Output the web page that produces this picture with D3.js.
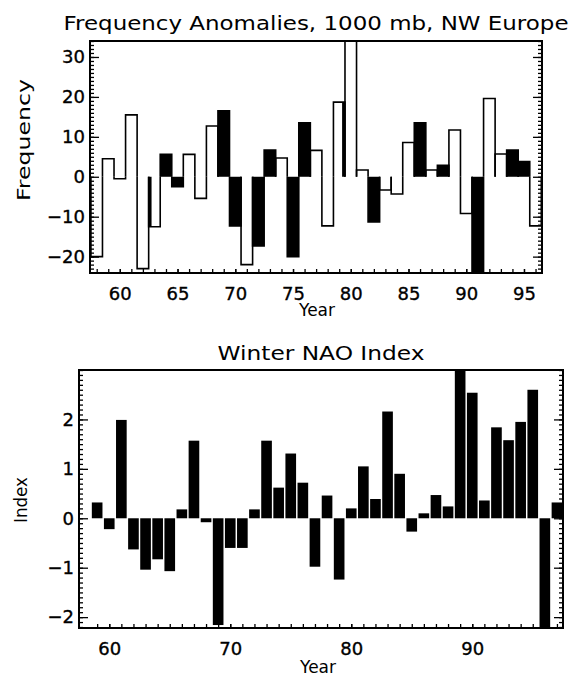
<!DOCTYPE html>
<html>
<head>
<meta charset="utf-8">
<script src="https://cdn.jsdelivr.net/npm/d3@7"></script>
<style>
  body { margin: 0; background: #fff; }
</style>
</head>
<body>
<div id="chart"></div>
<script>
// --- Frequency anomalies, 1000 mb, NW Europe (top panel)
const freqYears = [58, 59, 60, 61, 62, 63, 64, 65, 66, 67, 68, 69, 70, 71, 72, 73, 74, 75, 76, 77,
  78, 79, 80, 81, 82, 83, 84, 85, 86, 87, 88, 89, 90, 91, 92, 93, 94, 95, 96];
const freqValues = [-20, 4.5, -0.5, 15.5, -23, -12.5, 5.6, -2.5, 5.6, -5.4, 12.7, 16.5, -12.3, -22, -17.3, 6.7,
  4.7, -20, 13.5, 6.6, -12.3, 18.7, 40, 1.7, -11.3, -3.3, -4.3, 8.6, 13.5, 1.7, 2.9, 11.7, -9.2,
  -30, 19.6, 5.7, 6.7, 3.8, -12.3];
const freqShaded = [0, 0, 0, 0, 0, 0, 1, 1, 0, 0, 0, 1, 1, 0, 1, 1, 0, 1, 1, 0,
  0, 0, 0, 0, 1, 0, 0, 0, 1, 0, 1, 0, 0, 1, 0, 0, 1, 1, 0];
// thin shaded slivers at the edge of two open bars
const freqSlivers = [[63, "left"], [79, "right"]];
const freqYTicks = [-20, -10, 0, 10, 20, 30];
const freqXTicks = [60, 65, 70, 75, 80, 85, 90, 95];

// --- Winter NAO index (bottom panel)
const naoYears = [59, 60, 61, 62, 63, 64, 65, 66, 67, 68, 69, 70, 71, 72, 73, 74, 75, 76, 77, 78,
  79, 80, 81, 82, 83, 84, 85, 86, 87, 88, 89, 90, 91, 92, 93, 94, 95, 96, 97];
const naoValues = [0.32, -0.22, 1.99, -0.63, -1.04, -0.83, -1.07, 0.18, 1.57, -0.08, -2.16, -0.6, -0.6,
  0.18, 1.57, 0.62, 1.31, 0.72, -0.98, 0.46, -1.24, 0.2, 1.05, 0.39, 2.16, 0.9, -0.27, 0.1, 0.47,
  0.24, 3.3, 2.54, 0.36, 1.84, 1.58, 1.95, 2.6, -2.5, 0.32];
const naoYTicks = [-2, -1, 0, 1, 2];
const naoXTicks = [60, 70, 80, 90];

const width = 575;
const height = 681;
const ink = "#000";
const font = "'DejaVu Sans', 'Liberation Sans', sans-serif";

const svg = d3
  .select("#chart")
  .append("svg")
  .attr("width", width)
  .attr("height", height)
  .style("font-family", font);

function drawFrame(g, x, y, clipId, yMinorStep, yMinorRange, xMinor) {
  const [x0, x1] = x.range();
  const [yb, yt] = y.range();

  svg.append("clipPath")
    .attr("id", clipId)
    .append("rect")
    .attr("x", x0)
    .attr("y", yt)
    .attr("width", x1 - x0)
    .attr("height", yb - yt);

  const minorY = d3.range(yMinorRange[0], yMinorRange[1] + 1e-9, yMinorStep)
    .map((d) => +d.toFixed(3))
    .filter((d) => d >= y.domain()[0] && d <= y.domain()[1]);

  // minor ticks, left and right (pointing in)
  g.append("g")
    .attr("transform", `translate(${x0},0)`)
    .call(d3.axisLeft(y).tickValues(minorY).tickSize(-4).tickFormat(""))
    .call((a) => a.select(".domain").remove());
  g.append("g")
    .attr("transform", `translate(${x1},0)`)
    .call(d3.axisRight(y).tickValues(minorY).tickSize(-4).tickFormat(""))
    .call((a) => a.select(".domain").remove());

  g.append("g")
    .attr("transform", `translate(0,${yb})`)
    .call(d3.axisBottom(x).tickValues(xMinor).tickSize(-4).tickFormat(""))
    .call((a) => a.select(".domain").remove());

  g.selectAll(".tick line").attr("stroke", ink).attr("stroke-width", 1.3);
}

function drawAxes(g, x, y, yTicks, xTicks, opts) {
  const [x0, x1] = x.range();
  const [yb, yt] = y.range();

  const left = g.append("g")
    .attr("transform", `translate(${x0},0)`)
    .call(d3.axisLeft(y).tickValues(yTicks).tickSize(-9).tickPadding(5).tickFormat((d) => (d < 0 ? "\u2212" + Math.abs(d) : d)));
  left.select(".domain").remove();

  const right = g.append("g")
    .attr("transform", `translate(${x1},0)`)
    .call(d3.axisRight(y).tickValues(yTicks).tickSize(-9).tickFormat(""));
  right.select(".domain").remove();

  const bottom = g.append("g")
    .attr("transform", `translate(0,${yb})`)
    .call(d3.axisBottom(x).tickValues(xTicks).tickSize(-4).tickPadding(opts.xPad));
  bottom.select(".domain").remove();

  g.selectAll(".tick line").attr("stroke", ink).attr("stroke-width", 1.3);
  g.selectAll(".tick text")
    .attr("fill", ink)
    .attr("stroke", ink)
    .attr("stroke-width", 0.35)
    .attr("font-family", font)
    .attr("font-size", "18px");

  g.append("rect")
    .attr("x", x0)
    .attr("y", yt)
    .attr("width", x1 - x0)
    .attr("height", yb - yt)
    .attr("fill", "none")
    .attr("stroke", ink)
    .attr("stroke-width", 2);

  g.append("text")
    .attr("x", (x0 + x1) / 2)
    .attr("y", opts.titleY)
    .attr("text-anchor", "middle")
    .attr("font-size", "20px")
    .attr("textLength", opts.titleLen)
    .attr("lengthAdjust", "spacingAndGlyphs")
    .attr("fill", ink)
    .text(opts.title);

  g.append("text")
    .attr("x", opts.xLabelX)
    .attr("y", opts.xLabelY)
    .attr("text-anchor", "middle")
    .attr("font-size", "18px")
    .attr("textLength", 36)
    .attr("lengthAdjust", "spacingAndGlyphs")
    .attr("fill", ink)
    .text("Year");

  g.append("text")
    .attr("transform", `translate(${opts.yLabelX},${opts.yLabelY}) rotate(-90)`)
    .attr("text-anchor", "middle")
    .attr("font-size", "17px")
    .attr("textLength", opts.yLabelLen)
    .attr("lengthAdjust", "spacingAndGlyphs")
    .attr("fill", ink)
    .text(opts.yLabel);
}

// ---------- top panel ----------
const xTop = d3.scaleLinear().domain([57.42, 96.56]).range([90, 542]);
const yTop = d3.scaleLinear().domain([-24.1, 34]).range([273, 41]);
const topG = svg.append("g");

drawFrame(topG, xTop, yTop, "clipTop", 1, [-24, 34], freqYears);

const topBars = topG.append("g").attr("clip-path", "url(#clipTop)");
const freqData = freqYears.map((yr, i) => ({ yr, v: freqValues[i], s: freqShaded[i] }));

topBars.selectAll("rect.fill")
  .data(freqData.filter((d) => d.s))
  .join("rect")
  .attr("class", "fill")
  .attr("x", (d) => xTop(d.yr - 0.5))
  .attr("width", (d) => xTop(d.yr + 0.5) - xTop(d.yr - 0.5))
  .attr("y", (d) => yTop(Math.max(0, d.v)))
  .attr("height", (d) => Math.abs(yTop(d.v) - yTop(0)))
  .attr("fill", ink);

topBars.selectAll("rect.sliver")
  .data(freqSlivers.map(([yr, side]) => ({ yr, side, v: freqValues[freqYears.indexOf(yr)] })))
  .join("rect")
  .attr("class", "sliver")
  .attr("x", (d) => (d.side === "left" ? xTop(d.yr - 0.5) : xTop(d.yr + 0.25)))
  .attr("width", xTop(0.25) - xTop(0))
  .attr("y", (d) => yTop(Math.max(0, d.v)))
  .attr("height", (d) => Math.abs(yTop(d.v) - yTop(0)))
  .attr("fill", ink);

topBars.selectAll("path.outline")
  .data(freqData)
  .join("path")
  .attr("class", "outline")
  .attr("d", (d) => {
    const a = xTop(d.yr - 0.5);
    const b = xTop(d.yr + 0.5);
    return `M${a},${yTop(0)}V${yTop(d.v)}H${b}V${yTop(0)}`;
  })
  .attr("fill", "none")
  .attr("stroke", ink)
  .attr("stroke-width", 1.6);

drawAxes(topG, xTop, yTop, freqYTicks, freqXTicks, {
  xPad: 14,
  title: "Frequency Anomalies, 1000 mb, NW Europe",
  titleY: 30,
  titleLen: 505,
  xLabelX: 317,
  xLabelY: 316,
  yLabel: "Frequency",
  yLabelX: 30,
  yLabelY: 140,
  yLabelLen: 122,
});

// ---------- bottom panel ----------
const xBot = d3.scaleLinear().domain([57.5, 97.5]).range([79, 563]);
const yBot = d3.scaleLinear().domain([-2.22, 3.0]).range([628, 370]);
const botG = svg.append("g");

drawFrame(botG, xBot, yBot, "clipBot", 0.1, [-2.2, 3.0], naoYears);

const botBars = botG.append("g").attr("clip-path", "url(#clipBot)");
botBars.selectAll("rect")
  .data(naoYears.map((yr, i) => ({ yr, v: naoValues[i] })))
  .join("rect")
  .attr("x", (d) => xBot(d.yr - 0.44))
  .attr("width", xBot(0.88) - xBot(0))
  .attr("y", (d) => yBot(Math.max(0, d.v)))
  .attr("height", (d) => Math.abs(yBot(d.v) - yBot(0)))
  .attr("fill", ink);

drawAxes(botG, xBot, yBot, naoYTicks, naoXTicks, {
  xPad: 14,
  title: "Winter NAO Index",
  titleY: 360,
  titleLen: 207,
  xLabelX: 318,
  xLabelY: 673,
  yLabel: "Index",
  yLabelX: 27,
  yLabelY: 500,
  yLabelLen: 46,
});
</script>
</body>
</html>
